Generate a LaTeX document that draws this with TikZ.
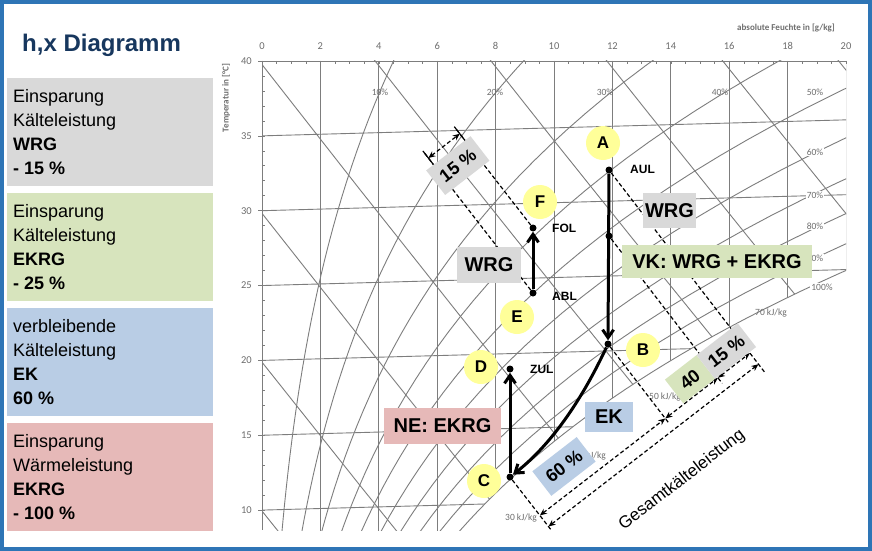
\documentclass[tikz,border=0pt]{standalone}
\usepackage{fontspec}
\setmainfont{Liberation Sans}
\newfontfamily\chartf{Carlito}
\usetikzlibrary{arrows.meta}
\definecolor{frameblue}{RGB}{46,117,182}
\definecolor{titleblue}{RGB}{23,55,94}
\definecolor{boxgray}{RGB}{217,217,217}
\definecolor{boxgreen}{RGB}{215,228,189}
\definecolor{boxblue}{RGB}{185,205,229}
\definecolor{boxred}{RGB}{230,185,184}
\definecolor{ylw}{RGB}{255,255,153}
\definecolor{gridc}{RGB}{125,125,125}
\definecolor{labc}{RGB}{110,110,110}
\begin{document}
\begin{tikzpicture}[x=1pt,y=-1pt,
 declare function={ps(\t)=0.61078*exp(17.27*\t/(\t+237.3));
   xa(\t,\f)=622*\f*ps(\t)/(101.325-\f*ps(\t));
   PX(\x)=262+29.2*\x; PY(\x,\t)=61+(40-\t)*14.97-0.8*\x;
   xh(\t,\h)=(\h-1.006*\t)/(2.501+0.00186*\t);},
 grid/.style={draw=gridc,line width=0.9pt},
 lab/.style={font=\chartf\fontsize{9.5}{11}\selectfont,text=labc,inner sep=1pt},
 panel/.style={anchor=north west,align=left,inner sep=0pt,font=\fontsize{18}{24}\selectfont},
 pbox/.style={minimum width=206,minimum height=108,inner sep=0pt,anchor=north west},
 ycirc/.style={circle,fill=ylw,minimum size=34pt,inner sep=0pt,font=\bfseries\fontsize{17}{20}\selectfont},
 pt/.style={circle,fill=black,minimum size=7pt,inner sep=0pt},
 plab/.style={font=\bfseries\fontsize{12}{14}\selectfont,anchor=west,inner sep=0pt},
 box/.style={inner sep=0pt,font=\bfseries\fontsize{20}{24}\selectfont},
 flow/.style={line width=3pt,-{Straight Barb[length=8pt,width=11pt]}},
 dim/.style={dashed,line width=1.2pt,dash pattern=on 4pt off 2.5pt},
 dar/.style={dim,{Stealth[length=7pt,width=6pt]}-{Stealth[length=7pt,width=6pt]}},
 rbox/.style={rotate=37.7,inner sep=0pt,font=\bfseries\fontsize{18}{20}\selectfont}]
\useasboundingbox (0,0) rectangle (872,551);
\fill[white] (0,0) rectangle (872,551);

% ---------- chart grid ----------
\begin{scope}
 \clip (262,61) rectangle (846,530);
 \begin{scope}
  \clip plot[domain=5:27,samples=40,variable=\t] ({PX(xa(\t,1))},{PY(xa(\t,1),\t)}) -- (1000,0) -- (0,0) -- (0,600) -- cycle;
  \foreach \g in {2,4,...,20} \draw[grid] ({PX(\g)},61) -- ({PX(\g)},540);
  \foreach \T in {10,15,...,35} \draw[grid] ({PX(0)},{PY(0,\T)}) -- ({PX(22)},{PY(22,\T)});
  \foreach \q in {0.1,0.2,0.3,0.4,0.5,0.6,0.7,0.8,0.9}
    \draw[grid] plot[domain=-5:40,samples=45,variable=\t] ({PX(xa(\t,\q))},{PY(xa(\t,\q),\t)});
  \foreach \h [evaluate=\h as \hl using \h-60] in {10,20,...,90}
    \draw[grid] plot[domain=\hl:\h,samples=8,variable=\t] ({PX(xh(\t,\h))},{PY(xh(\t,\h),\t)});
 \end{scope}
 \draw[grid] plot[domain=5:27,samples=40,variable=\t] ({PX(xa(\t,1))},{PY(xa(\t,1),\t)});
\end{scope}
\draw[grid] (262,61) -- (846,61);
\draw[grid] (262,61) -- (262,530);
\foreach \i in {0,...,40} \draw[grid,line width=0.6pt] ({PX(\i/2)},61) -- ++(0,3);
\foreach \T in {10,...,40} \draw[grid,line width=0.6pt] (262,{PY(0,\T)}) -- ++(3,0);
\foreach \T in {10,15,...,40} \draw[grid,line width=0.6pt] (262,{PY(0,\T)}) -- ++(-4,0);
\foreach \g in {0,2,...,20} \node[lab,font=\chartf\fontsize{10.5}{12}\selectfont] (tx\g) at ({PX(\g)},46) {\g};
\foreach \T in {10,15,...,40} \node[lab,font=\chartf\fontsize{10.5}{12}\selectfont,anchor=east] (ty\T) at (253,{PY(0,\T)}) {\T};
\node[lab,rotate=90,font=\chartf\bfseries\fontsize{9}{10}\selectfont] (ylab) at (226,98) {Temperatur in [°C]};
\node[lab,font=\chartf\bfseries\fontsize{9}{10}\selectfont] (xlab) at (786,28) {absolute Feuchte in [g/kg]};
\node[lab] (r10) at (380,92) {10\%};
\node[lab] (r20) at (495,92) {20\%};
\node[lab] (r30) at (605,92) {30\%};
\node[lab] (r40) at (720,92) {40\%};
\node[lab,fill=white] (r50) at (815,92) {50\%};
\node[lab,fill=white] (r60) at (815,152) {60\%};
\node[lab,fill=white] (r70) at (815,195) {70\%};
\node[lab,fill=white] (r80) at (815,226) {80\%};
\node[lab,fill=white] (r90) at (815,258) {90\%};
\node[lab,fill=white] (r100) at (822,287) {100\%};
\node[lab] (h70) at (771,313) {70 kJ/kg};
\node[lab] (h50) at (665,397) {50 kJ/kg};
\node[lab] (h40) at (590,456) {40 kJ/kg};
\node[lab] (h30) at (521,518) {30 kJ/kg};

% ---------- left panel ----------
\node[anchor=base west,inner sep=0pt,text=titleblue,font=\bfseries\fontsize{24}{28}\selectfont] (title) at (22,52) {h,x Diagramm};
\node[pbox,fill=boxgray] (b1) at (7,78) {};
\node[pbox,fill=boxgreen] (b2) at (7,193) {};
\node[pbox,fill=boxblue] (b3) at (7,308) {};
\node[pbox,fill=boxred] (b4) at (7,423) {};
\node[panel] (t1) at (13,89) {Einsparung\\Kälteleistung\\\textbf{WRG}\\\textbf{- 15 \%}};
\node[panel] (t2) at (13,204) {Einsparung\\Kälteleistung\\\textbf{EKRG}\\\textbf{- 25 \%}};
\node[panel] (t3) at (13,319) {verbleibende\\Kälteleistung\\\textbf{EK}\\\textbf{60 \%}};
\node[panel] (t4) at (13,434) {Einsparung\\Wärmeleistung\\\textbf{EKRG}\\\textbf{- 100 \%}};

% ---------- process points ----------
\node[pt] (pA) at (609,170) {};
\node[pt] (pM) at (609,236) {};
\node[pt] (pB) at (608,344) {};
\node[pt] (pC) at (510,477) {};
\node[pt] (pD) at (510,369) {};
\node[pt] (pF) at (533,228) {};
\node[pt] (pE) at (533,293) {};

% ---------- dimension geometry (rotated frame) ----------
\begin{scope}[rotate=37.7]
 \coordinate (eC) at (112,758);
 \coordinate (eB) at (270.5,745);
 \coordinate (eM) at (337,745);
 \coordinate (eA) at (377.4,762);
 \coordinate (eF) at (282,380);
 \coordinate (eE) at (242.3,380);
 \coordinate (d1) at (112,738);
 \coordinate (d2) at (270.5,738);
 \coordinate (d3) at (337,738);
 \coordinate (d4) at (377.4,738);
 \coordinate (g1) at (112,752);
 \coordinate (g2) at (377.4,752);
 \coordinate (u1) at (242.3,387);
 \coordinate (u2) at (282,387);
 \coordinate (k1) at (242.3,378);
 \coordinate (k2) at (242.3,396);
 \coordinate (k3) at (282,378);
 \coordinate (k4) at (282,396);
 \coordinate (q15) at (261,411);
 \coordinate (q60) at (161,714);
 \coordinate (q40) at (314,722);
 \coordinate (q15b) at (360,722);
 \coordinate (qg) at (246,797);
\end{scope}
\draw[dim] (pC) -- (eC);
\draw[dim] (pB) -- (eB);
\draw[dim] (pM) -- (eM);
\draw[dim] (pA) -- (eA);
\draw[dim] (pF) -- (eF);
\draw[dim] (pE) -- (eE);
\draw[dar] (d1) -- (d2);
\draw[dar] (d2) -- (d3);
\draw[dar] (d3) -- (d4);
\draw[dar] (g1) -- (g2);
\draw[dar] (u1) -- (u2);
\draw[line width=1.2pt] (k1) -- (k2);
\draw[line width=1.2pt] (k3) -- (k4);

% ---------- flows ----------
\draw[flow] (pA) -- (pB);
\draw[flow] (pE) -- (pF);
\draw[flow] (pC) -- (pD);
\draw[flow] (pB) .. controls (592,378) and (562,436) .. (pC);

% ---------- circles & labels ----------
\node[ycirc] (cA) at (603,143) {A};
\node[ycirc] (cF) at (540,202) {F};
\node[ycirc] (cE) at (517,317) {E};
\node[ycirc] (cD) at (481,367) {D};
\node[ycirc] (cC) at (484,481) {C};
\node[ycirc] (cB) at (643,350) {B};
\node[plab] (lA) at (630,169) {AUL};
\node[plab] (lF) at (552,228) {FOL};
\node[plab] (lE) at (552,296) {ABL};
\node[plab] (lD) at (530,369) {ZUL};

\node[box,fill=boxgray,minimum width=53pt,minimum height=35pt] (wrg1) at (669.5,210.5) {WRG};
\node[box,fill=boxgray,minimum width=64pt,minimum height=36pt] (wrg2) at (489,265) {WRG};
\node[box,fill=boxgreen,minimum width=190pt,minimum height=33pt] (vk) at (717,261.5) {VK: WRG + EKRG};
\node[box,fill=boxred,minimum width=117pt,minimum height=36pt] (ne) at (442.5,426) {NE: EKRG};
\node[box,fill=boxblue,minimum width=48pt,minimum height=30pt] (ek) at (609,417) {EK};

\node[rbox,fill=boxgray,minimum width=56pt,minimum height=31pt] (r15a) at (q15) {15 \%};
\node[rbox,fill=boxblue,minimum width=56pt,minimum height=31pt] (r60b) at (q60) {60 \%};
\node[rbox,fill=boxgreen,minimum width=40pt,minimum height=30pt] (r40b) at (q40) {40};
\node[rbox,fill=boxgray,minimum width=52pt,minimum height=30pt] (r15b) at (q15b) {15 \%};
\node[rotate=37.7,inner sep=0pt,font=\fontsize{17}{20}\selectfont] (gesamt) at (qg) {Gesamtkälteleistung};

% ---------- frame ----------
\draw[frameblue,line width=4pt] (2,2) rectangle (870,549);
\end{tikzpicture}
\end{document}
